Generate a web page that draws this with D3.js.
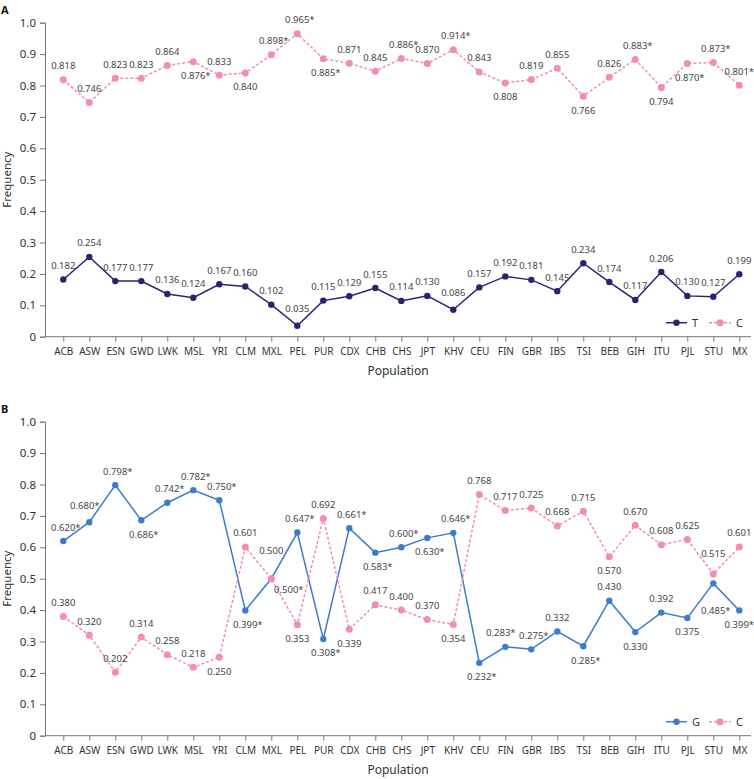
<!DOCTYPE html>
<html><head><meta charset="utf-8">
<script src="https://cdn.jsdelivr.net/npm/d3@7"></script>
<style>
body{margin:0;background:#fff;}
svg{display:block;font-family:"Noto Sans",sans-serif;}
</style></head>
<body><svg id="chart" width="754" height="779"></svg>
<script>
// ---------- DATA ----------
const populations = ["ACB","ASW","ESN","GWD","LWK","MSL","YRI","CLM","MXL","PEL","PUR","CDX","CHB","CHS","JPT","KHV","CEU","FIN","GBR","IBS","TSI","BEB","GIH","ITU","PJL","STU","MX"];
const yTicks = [0,0.1,0.2,0.3,0.4,0.5,0.6,0.7,0.8,0.9,1.0];

// Panel A
const aT = [0.182,0.254,0.177,0.177,0.136,0.124,0.167,0.160,0.102,0.035,0.115,0.129,0.155,0.114,0.130,0.086,0.157,0.192,0.181,0.145,0.234,0.174,0.117,0.206,0.130,0.127,0.199];
const aTStar = [0,0,0,0,0,0,0,0,0,0,0,0,0,0,0,0,0,0,0,0,0,0,0,0,0,0,0];
const aC = [0.818,0.746,0.823,0.823,0.864,0.876,0.833,0.840,0.898,0.965,0.885,0.871,0.845,0.886,0.870,0.914,0.843,0.808,0.819,0.855,0.766,0.826,0.883,0.794,0.870,0.873,0.801];
const aCStar = [0,0,0,0,0,1,0,0,1,1,1,0,0,1,0,1,0,0,0,0,0,0,1,0,1,1,1];

// Panel B
const bG = [0.620,0.680,0.798,0.686,0.742,0.782,0.750,0.399,0.500,0.647,0.308,0.661,0.583,0.600,0.630,0.646,0.232,0.283,0.275,0.332,0.285,0.430,0.330,0.392,0.375,0.485,0.399];
const bGStar = [1,1,1,1,1,1,1,1,0,1,1,1,1,1,1,1,1,1,1,0,1,0,0,0,0,1,1];
const bC = [0.380,0.320,0.202,0.314,0.258,0.218,0.250,0.601,0.500,0.353,0.692,0.339,0.417,0.400,0.370,0.354,0.768,0.717,0.725,0.668,0.715,0.570,0.670,0.608,0.625,0.515,0.601];
const bCStar = [0,0,0,0,0,0,0,0,1,0,0,0,0,0,0,0,0,0,0,0,0,0,0,0,0,0,0];

// ---------- LAYOUT (label placement codes, one per population) ----------
const placeAT = "uuuuuuuuuUuuuuuUuuuuuuuuuuu";
const placeAC = "uuuuudu" + "duuduuu" + "uuuduud" + "uudduu";
const placeBG = "uluduuu" + "dWududu" + "dudxuud" + "ududDd";
const placeBC = "uuuuuud" + "umduduu" + "uduuuuu" + "duuuVu";

const colT = "#2e2270", colC = "#f28dba", colG = "#3d7cc9";
const svg = d3.select("#chart");

function offsets(code){
  switch(code){
    case "u": return [0,-14];
    case "d": return [0,14];
    case "U": return [0,-17];
    case "l": return [-7,-17];
    case "x": return [-7,-14];
    case "W": return [0,-28];
    case "D": return [0,27];
    case "m": return [15,11];
    case "V": return [0,-20];
  }
  return [0,-14];
}

function panel(opts){
  const g = svg.append("g");
  const x = d3.scalePoint().domain(populations).range([63.3,739.3]);
  const y = d3.scaleLinear().domain([0,1]).range([opts.y0, opts.y1]);
  const axisLeftX = 45, axisRight = 751;

  // y axis
  const ya = g.append("g").attr("transform",`translate(${axisLeftX},0)`)
    .call(d3.axisLeft(y).tickValues(yTicks).tickSize(5).tickPadding(4)
      .tickFormat(d => d===0 ? "0" : d3.format(".1f")(d)));
  ya.select(".domain").attr("stroke","#777");
  ya.selectAll(".tick line").attr("stroke","#777");
  ya.selectAll(".tick text").attr("font-size",11.5).attr("fill","#333").attr("font-family","Noto Sans");

  // x axis
  const xa = g.append("g").attr("transform",`translate(0,${opts.y0})`)
    .call(d3.axisBottom(x).tickSize(5).tickPadding(6).tickSizeOuter(0));
  xa.select(".domain").attr("d",`M${axisLeftX},0H${axisRight}`).attr("stroke","#777");
  xa.selectAll(".tick line").attr("stroke","#777");
  xa.selectAll(".tick text").attr("font-size",10).attr("fill","#333").attr("font-family","Noto Sans");

  // titles
  g.append("text").attr("x",398).attr("y",opts.y0+38).attr("text-anchor","middle")
    .attr("font-size",12).attr("fill","#333").text("Population");
  g.append("text").attr("transform",`translate(11,${(opts.y0+opts.y1)/2}) rotate(-90)`)
    .attr("text-anchor","middle").attr("font-size",11.5).attr("fill","#333").text("Frequency");
  g.append("text").attr("x",1).attr("y",opts.y1-9).attr("font-size",11).attr("font-weight","bold")
    .attr("fill","#111").text(opts.letter);

  const line = d3.line().x((d,i)=>x(populations[i])).y(d=>y(d));

  opts.series.forEach(s=>{
    g.append("path").datum(s.values).attr("fill","none").attr("stroke",s.color)
      .attr("stroke-width",1.5).attr("stroke-dasharray",s.dash?"3,2":null).attr("d",line);
    g.selectAll(null).data(s.values).join("circle")
      .attr("cx",(d,i)=>x(populations[i])).attr("cy",d=>y(d)).attr("r",s.r).attr("fill",s.color);
    g.selectAll(null).data(s.values).join("text")
      .attr("x",(d,i)=>x(populations[i]) + offsets(s.place[i])[0] + (s.star[i]&&i<26?2.5:0))
      .attr("y",(d,i)=>y(d) + offsets(s.place[i])[1] + 3.5)
      .attr("text-anchor","middle").attr("font-size",9.5).attr("fill","#444")
      .text((d,i)=>d.toFixed(3) + (s.star[i]?"*":""));
  });

  // legend
  const ly = opts.legendY;
  const leg = [{name:opts.series[0].name, s:opts.series[0], x1:666, x2:687},
               {name:opts.series[1].name, s:opts.series[1], x1:709, x2:731}];
  leg.forEach(l=>{
    g.append("line").attr("x1",l.x1).attr("x2",l.x2).attr("y1",ly).attr("y2",ly)
      .attr("stroke",l.s.color).attr("stroke-width",1.5).attr("stroke-dasharray",l.s.dash?"3,2":null);
    g.append("circle").attr("cx",(l.x1+l.x2)/2).attr("cy",ly).attr("r",l.s.r).attr("fill",l.s.color);
    g.append("text").attr("x",l.x2+5).attr("y",ly+4).attr("font-size",11).attr("fill","#333").text(l.name);
  });
}

panel({y0:336.7, y1:22.7, letter:"A", legendY:322.7, series:[
  {name:"T", values:aT, star:aTStar, place:placeAT, color:colT, dash:false, r:3.2},
  {name:"C", values:aC, star:aCStar, place:placeAC, color:colC, dash:true, r:3.5}
]});
panel({y0:735.7, y1:421.7, letter:"B", legendY:721.7, series:[
  {name:"G", values:bG, star:bGStar, place:placeBG, color:colG, dash:false, r:3.2},
  {name:"C", values:bC, star:bCStar, place:placeBC, color:colC, dash:true, r:3.5}
]});
</script></body></html>
